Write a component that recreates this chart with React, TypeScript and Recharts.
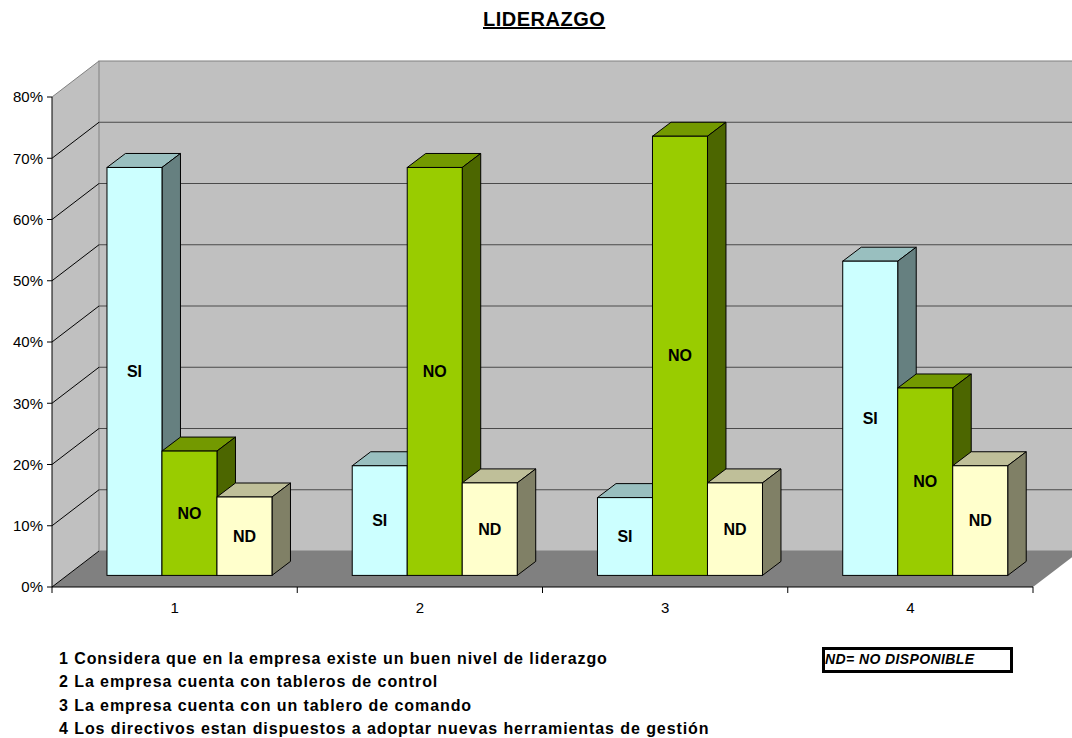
import { BarChart, Bar, XAxis, YAxis, ReferenceArea } from 'recharts';

const categories = ['1', '2', '3', '4'];
const siValues = [0.666, 0.179, 0.127, 0.513];
const noValues = [0.203, 0.666, 0.717, 0.306];
const ndValues = [0.128, 0.151, 0.151, 0.179];
const yTicks = [0, 0.1, 0.2, 0.3, 0.4, 0.5, 0.6, 0.7, 0.8];
const questions = [
  '1 Considera que en la empresa existe un buen nivel de liderazgo',
  '2 La empresa cuenta con tableros de control',
  '3 La empresa cuenta con un tablero de comando',
  '4 Los directivos estan dispuestos a adoptar nuevas herramientas de gestión',
];

const data = categories.map((c, i) => ({ cat: c, SI: siValues[i], NO: noValues[i], ND: ndValues[i] }));

const FONT = '"Liberation Sans", Arial, sans-serif';
const yMax = yTicks[yTicks.length - 1];

// fake 3d: wall depth, bar plane offset, bar depth
const WX = 47, WY = 36;
const PX = 15, PY = 11.6;
const DX = 18.5, DY = 14;

const makeBox = (front: string, top: string, side: string, label: string) => (props: any) => {
  const { x, y, width, height } = props;
  if (width == null || height == null) return <g />;
  const fx = x + PX;
  const fy = y - PY;
  const r = fx + width;
  const b = fy + height;
  return (
    <g>
      <polygon
        points={`${fx},${fy} ${fx + DX},${fy - DY} ${r + DX},${fy - DY} ${r},${fy}`}
        fill={top}
        stroke="#000"
      />
      <polygon
        points={`${r},${fy} ${r + DX},${fy - DY} ${r + DX},${b - DY} ${r},${b}`}
        fill={side}
        stroke="#000"
      />
      <rect x={fx} y={fy} width={width} height={height} fill={front} stroke="#000" />
      <text
        x={fx + width / 2}
        y={fy + height / 2}
        textAnchor="middle"
        dominantBaseline="central"
        fontWeight="bold"
        fontSize={16}
        fontFamily={FONT}
        fill="#000"
      >
        {label}
      </text>
    </g>
  );
};

// walls, floor and gridlines, built from the plot rect the reference area gets
const Walls = (props: any) => {
  const { x, y, width, height } = props;
  const bottom = y + height;
  const right = x + width;
  const rows = yTicks.slice(1, -1).map((v) => bottom - (height * v) / yMax);
  const n = categories.length;
  return (
    <g>
      <polygon points={`${x},${y} ${x + WX},${y - WY} ${x + WX},${bottom - WY} ${x},${bottom}`} fill="#C0C0C0" />
      <rect x={x + WX} y={y - WY} width={width} height={height} fill="#C0C0C0" stroke="#808080" />
      <polygon
        points={`${x},${bottom} ${right},${bottom} ${right + WX},${bottom - WY} ${x + WX},${bottom - WY}`}
        fill="#808080"
      />
      <line x1={x} y1={y} x2={x + WX} y2={y - WY} stroke="#808080" />
      <line x1={x} y1={bottom} x2={x + WX} y2={bottom - WY} stroke="#000" />
      {rows.map((ry, i) => (
        <g key={i}>
          <line x1={x} y1={ry} x2={x + WX} y2={ry - WY} stroke="#000" />
          <line x1={x + WX} y1={ry - WY} x2={right + WX} y2={ry - WY} stroke="#4a4a4a" />
        </g>
      ))}
      {Array.from({ length: n + 1 }, (_, i) => (
        <line key={'t' + i} x1={x + (width * i) / n} y1={bottom} x2={x + (width * i) / n} y2={bottom + 6} stroke="#000" />
      ))}
    </g>
  );
};

export default function App() {
  return (
    <div style={{ position: 'absolute', left: 0, top: 0, width: 1072, height: 738, background: '#fff', fontFamily: FONT }}>
      <div
        style={{
          position: 'absolute',
          left: 483,
          top: 8,
          fontSize: 20,
          lineHeight: '23px',
          fontWeight: 'bold',
          letterSpacing: 0.5,
          textDecoration: 'underline',
        }}
      >
        LIDERAZGO
      </div>
      <BarChart
        width={1072}
        height={640}
        data={data}
        margin={{ top: 97, right: 39, left: 0, bottom: 23 }}
        barCategoryGap="16.3%"
        barGap={0}
      >
        <ReferenceArea y1={0} y2={yMax} shape={Walls} zIndex={-60} ifOverflow="visible" />
        <XAxis
          dataKey="cat"
          height={30}
          tickLine={false}
          axisLine={{ stroke: '#000' }}
          tickMargin={9}
          tick={{ fill: '#000', fontSize: 15, fontFamily: FONT }}
        />
        <YAxis
          domain={[0, yMax]}
          ticks={yTicks}
          width={52}
          tickSize={5}
          tickMargin={4}
          interval={0}
          axisLine={{ stroke: '#000' }}
          tickLine={{ stroke: '#000' }}
          tick={{ fill: '#000', fontSize: 15, fontFamily: FONT }}
          tickFormatter={(v: number) => `${Math.round(v * 100)}%`}
        />
        <Bar dataKey="SI" isAnimationActive={false} shape={makeBox('#CCFFFF', '#99BFBF', '#668080', 'SI')} />
        <Bar dataKey="NO" isAnimationActive={false} shape={makeBox('#99CC00', '#739900', '#4C6600', 'NO')} />
        <Bar dataKey="ND" isAnimationActive={false} shape={makeBox('#FFFFCC', '#BFBF99', '#808066', 'ND')} />
      </BarChart>
      {questions.map((q, i) => (
        <div
          key={i}
          style={{
            position: 'absolute',
            left: 59,
            top: 649 + i * 23.4,
            fontSize: 16,
            lineHeight: '20px',
            fontWeight: 'bold',
            letterSpacing: 0.92,
            whiteSpace: 'nowrap',
          }}
        >
          {q}
        </div>
      ))}
      <div
        style={{
          position: 'absolute',
          left: 822,
          top: 647,
          width: 191,
          height: 26,
          boxSizing: 'border-box',
          border: '3px solid #000',
          fontSize: 14,
          lineHeight: '19px',
          fontWeight: 'bold',
          fontStyle: 'italic',
          letterSpacing: 0.4,
          whiteSpace: 'nowrap',
          paddingLeft: 0,
        }}
      >
        ND= NO DISPONIBLE
      </div>
    </div>
  );
}
